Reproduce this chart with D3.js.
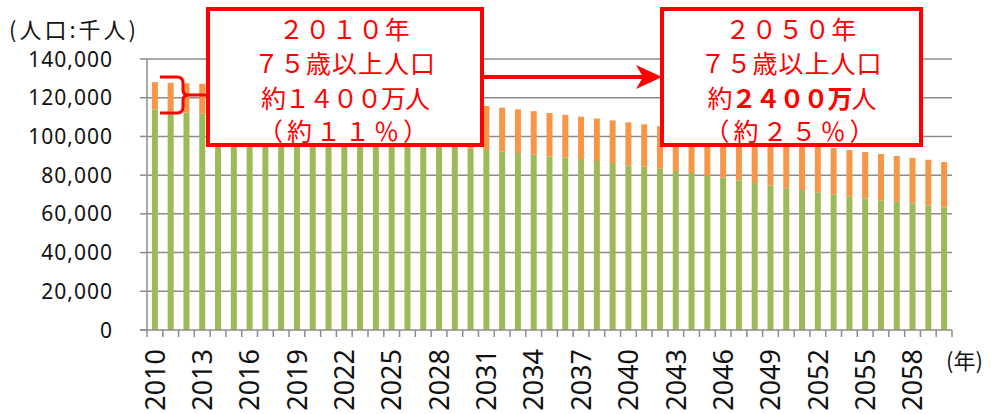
<!DOCTYPE html>
<html>
<head>
<meta charset="utf-8">
<script src="https://cdn.jsdelivr.net/npm/d3@7"></script>
<style>
  html, body { margin: 0; padding: 0; background: #fff; }
  svg { display: block; }
</style>
</head>
<body>
<div id="chart"></div>
<script>
const years = d3.range(2010, 2061);

// population under 75 (thousands)
const under75 = [
  113863, 112900, 112300, 111700, 111000, 110139, 109200, 108300, 107400, 106600,
  105310, 104580, 103200, 101700, 100300, 98873, 97900, 96900, 95800, 94800,
  93834, 93000, 92150, 91450, 90580, 89670, 89030, 88340, 87300, 86270,
  85046, 84380, 83330, 82140, 81100, 79643, 78700, 77300, 75940, 74600,
  73230, 72320, 71130, 70100, 69070, 67923, 67000, 66290, 65460, 64420,
  63375
];

// population 75 and over (thousands)
const over75 = [
  14194, 14853, 15198, 15515, 15925, 16458, 17035, 17537, 18002, 18332,
  18790, 18894, 19613, 20422, 21103, 21786, 21991, 22202, 22493, 22665,
  22784, 22752, 22720, 22520, 22474, 22454, 22149, 21881, 21950, 21997,
  22230, 21897, 21942, 22123, 22152, 22567, 22510, 22877, 23203, 23509,
  23846, 23724, 23882, 23881, 23884, 24010, 23919, 23624, 23459, 23513,
  23362
];

const yTicks = [0, 20000, 40000, 60000, 80000, 100000, 120000, 140000];
const xLabelYears = years.filter((d, i) => i % 3 === 0);

const box2010 = ['２０１０年', '７５歳以上人口', '約１４００万人', '（約１１％）'];
const box2050 = ['２０５０年', '７５歳以上人口', null, '（約２５％）'];

const W = 995, H = 414;
const plot = { left: 147, right: 952, top: 59, bottom: 330 };
const RED = '#ff0000';
const GRID = '#8c8c8c';

const svg = d3.select('#chart').append('svg')
  .attr('width', W).attr('height', H);

const x = d3.scaleBand()
  .domain(years)
  .range([plot.left, plot.right])
  .paddingInner(0.62)
  .paddingOuter(0.31);

const y = d3.scaleLinear()
  .domain([0, 140000])
  .range([plot.bottom, plot.top]);

const rows = years.map((yr, i) => ({ year: yr, under75: under75[i], over75: over75[i] }));
const stack = d3.stack().keys(['under75', 'over75'])(rows);
const colors = { under75: '#9bbb59', over75: '#f79646' };

// gridlines
svg.append('g')
  .selectAll('line')
  .data(yTicks.slice(1))
  .join('line')
  .attr('x1', plot.left).attr('x2', plot.right)
  .attr('y1', d => y(d)).attr('y2', d => y(d))
  .attr('stroke', GRID).attr('stroke-width', 1.5);

// bars
svg.append('g')
  .selectAll('g')
  .data(stack)
  .join('g')
  .attr('fill', d => colors[d.key])
  .selectAll('rect')
  .data(d => d)
  .join('rect')
  .attr('x', d => x(d.data.year))
  .attr('width', x.bandwidth())
  .attr('y', d => y(d[1]))
  .attr('height', d => y(d[0]) - y(d[1]));

// axes
svg.append('line')
  .attr('x1', plot.left).attr('x2', plot.left)
  .attr('y1', plot.top).attr('y2', plot.bottom)
  .attr('stroke', GRID).attr('stroke-width', 1.5);
svg.append('line')
  .attr('x1', plot.left - 7).attr('x2', plot.right)
  .attr('y1', plot.bottom).attr('y2', plot.bottom)
  .attr('stroke', GRID).attr('stroke-width', 1.5);

// y tick marks + labels
svg.append('g')
  .selectAll('line')
  .data(yTicks)
  .join('line')
  .attr('x1', plot.left - 7).attr('x2', plot.left)
  .attr('y1', d => y(d)).attr('y2', d => y(d))
  .attr('stroke', GRID).attr('stroke-width', 1.5);

svg.append('g')
  .selectAll('text')
  .data(yTicks)
  .join('text')
  .attr('x', 113)
  .attr('y', d => y(d))
  .attr('dy', '0.36em')
  .attr('text-anchor', 'end')
  .attr('font-family', '"Noto Sans", sans-serif')
  .attr('font-size', '21px')
  .attr('letter-spacing', '1px')
  .attr('fill', '#111')
  .text(d => d3.format(',')(d));

// x tick marks at category boundaries
const step = x.step();
const x0 = x(years[0]) - x.paddingOuter() * step;
svg.append('g')
  .selectAll('line')
  .data(d3.range(years.length + 1))
  .join('line')
  .attr('x1', i => x0 + i * step).attr('x2', i => x0 + i * step)
  .attr('y1', plot.bottom).attr('y2', plot.bottom + 7)
  .attr('stroke', GRID).attr('stroke-width', 1.5);

// x labels (rotated)
svg.append('g')
  .selectAll('text')
  .data(xLabelYears)
  .join('text')
  .attr('transform', d => `translate(${x(d) + x.bandwidth() / 2},349) rotate(-90)`)
  .attr('dy', '0.36em')
  .attr('text-anchor', 'end')
  .attr('font-family', '"Noto Sans", sans-serif')
  .attr('font-size', '27px')
  .attr('fill', '#111')
  .text(d => d);

// axis titles
svg.append('text')
  .attr('x', 9).attr('y', 38)
  .attr('font-family', '"Noto Sans CJK JP", sans-serif')
  .attr('font-size', '22px')
  .attr('letter-spacing', '3px')
  .attr('fill', '#111')
  .text('(人口:千人)');

svg.append('text')
  .attr('x', 946).attr('y', 369)
  .attr('font-family', '"Noto Sans CJK JP", sans-serif')
  .attr('font-size', '22px')
  .attr('fill', '#111')
  .text('(年)');

// bracket around 2010-2013 elderly part
svg.append('path')
  .attr('d', 'M160,77 H177 Q183,77 183,83 V90 Q183,95 189,95 H210 M189,95 Q183,95 183,100 V107 Q183,113 177,113 H160')
  .attr('fill', 'none')
  .attr('stroke', RED)
  .attr('stroke-width', 3);

// arrow between boxes
svg.append('line')
  .attr('x1', 482).attr('x2', 648)
  .attr('y1', 77).attr('y2', 77)
  .attr('stroke', RED).attr('stroke-width', 4);
svg.append('polygon')
  .attr('points', '636,65 662,77 636,89 643,77')
  .attr('fill', RED);

function drawBox(x1, x2, lines, boldLine) {
  svg.append('rect')
    .attr('x', x1).attr('y', 9)
    .attr('width', x2 - x1).attr('height', 136)
    .attr('fill', '#fff')
    .attr('stroke', RED).attr('stroke-width', 4);
  const cx = (x1 + x2) / 2;
  const baselines = [39, 73, 108, 141];
  const spacing = ['1.5px', '1px', '-1px', '4px'];
  lines.forEach((t, i) => {
    const txt = svg.append('text')
      .attr('x', cx).attr('y', baselines[i])
      .attr('text-anchor', 'middle')
      .attr('font-family', '"Noto Sans CJK JP", sans-serif')
      .attr('font-size', '25px')
      .attr('letter-spacing', spacing[i])
      .attr('fill', RED);
    if (t === null) {
      boldLine.forEach(p => {
        txt.append('tspan').attr('font-weight', p.bold ? 'bold' : 'normal').text(p.text);
      });
    } else {
      txt.text(t);
    }
  });
}

drawBox(208, 482, box2010);
drawBox(662, 921, box2050, [
  { text: '約', bold: false },
  { text: '２４００万', bold: true },
  { text: '人', bold: false }
]);
</script>
</body>
</html>
